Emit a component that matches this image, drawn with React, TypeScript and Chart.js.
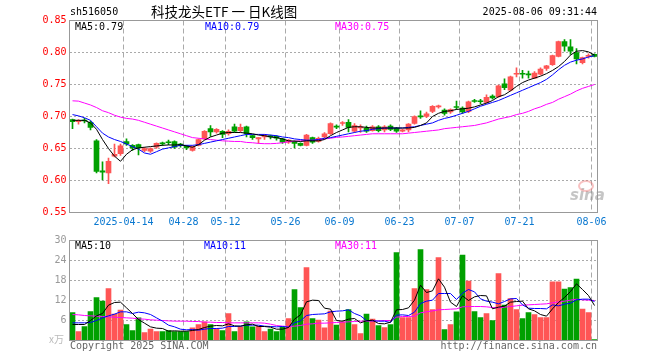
import React, { useEffect, useRef } from 'react';
import { Chart, registerables } from 'chart.js';
Chart.register(...registerables);

// ---------- DATA ----------
const dates = [
  '03-31', '04-01', '04-02', '04-03', '04-07', '04-08', '04-09', '04-10', '04-11',
  '04-14', '04-15', '04-16', '04-17', '04-18', '04-21', '04-22', '04-23', '04-24', '04-25',
  '04-28', '04-29', '04-30', '05-06', '05-07', '05-08', '05-09',
  '05-12', '05-13', '05-14', '05-15', '05-16', '05-19', '05-20', '05-21', '05-22', '05-23',
  '05-26', '05-27', '05-28', '05-29', '05-30', '06-03', '06-04', '06-05', '06-06',
  '06-09', '06-10', '06-11', '06-12', '06-13', '06-16', '06-17', '06-18', '06-19', '06-20',
  '06-23', '06-24', '06-25', '06-26', '06-27', '06-30', '07-01', '07-02', '07-03', '07-04',
  '07-07', '07-08', '07-09', '07-10', '07-11', '07-14', '07-15', '07-16', '07-17', '07-18',
  '07-21', '07-22', '07-23', '07-24', '07-25', '07-28', '07-29', '07-30', '07-31', '08-01',
  '08-04', '08-05', '08-06',
];

const opens = [
  0.695, 0.692, 0.694, 0.691, 0.662, 0.615, 0.612, 0.638, 0.642, 0.661,
  0.655, 0.656, 0.647, 0.646, 0.652, 0.659, 0.660, 0.661, 0.657, 0.654,
  0.647, 0.655, 0.665, 0.681, 0.676, 0.677, 0.673, 0.684, 0.678, 0.684,
  0.670, 0.665, 0.668, 0.670, 0.669, 0.665, 0.660, 0.661, 0.658, 0.655,
  0.667, 0.661, 0.668, 0.673, 0.6845, 0.689, 0.691, 0.677, 0.682, 0.682,
  0.678, 0.684, 0.679, 0.685, 0.682, 0.677, 0.679, 0.689, 0.7005, 0.700,
  0.708, 0.715, 0.710, 0.707, 0.715, 0.713, 0.708, 0.7245, 0.724, 0.722,
  0.732, 0.731, 0.751, 0.741, 0.766, 0.767, 0.766, 0.760, 0.766, 0.775,
  0.781, 0.794, 0.817, 0.809, 0.800, 0.784, 0.794, 0.797,
];
const highs = [
  0.696, 0.695, 0.697, 0.693, 0.664, 0.629, 0.635, 0.657, 0.657, 0.665,
  0.656, 0.657, 0.652, 0.651, 0.659, 0.660, 0.663, 0.662, 0.658, 0.655,
  0.654, 0.665, 0.678, 0.686, 0.681, 0.678, 0.679, 0.688, 0.688, 0.685,
  0.671, 0.667, 0.672, 0.671, 0.670, 0.666, 0.664, 0.662, 0.659, 0.672,
  0.668, 0.668, 0.675, 0.690, 0.687, 0.692, 0.695, 0.689, 0.687, 0.685,
  0.686, 0.686, 0.686, 0.687, 0.683, 0.680, 0.689, 0.701, 0.709, 0.707,
  0.717, 0.718, 0.712, 0.712, 0.724, 0.715, 0.724, 0.727, 0.727, 0.734,
  0.734, 0.749, 0.759, 0.763, 0.776, 0.772, 0.771, 0.770, 0.776, 0.780,
  0.796, 0.818, 0.820, 0.820, 0.806, 0.793, 0.798, 0.798,
];
const lows = [
  0.681, 0.688, 0.690, 0.679, 0.612, 0.601, 0.595, 0.637, 0.639, 0.655,
  0.647, 0.640, 0.645, 0.644, 0.650, 0.655, 0.656, 0.650, 0.652, 0.648,
  0.646, 0.654, 0.664, 0.669, 0.674, 0.667, 0.671, 0.675, 0.676, 0.668,
  0.664, 0.658, 0.664, 0.665, 0.663, 0.658, 0.658, 0.651, 0.654, 0.654,
  0.658, 0.660, 0.666, 0.672, 0.681, 0.686, 0.676, 0.675, 0.675, 0.675,
  0.677, 0.676, 0.676, 0.678, 0.675, 0.676, 0.676, 0.688, 0.697, 0.698,
  0.706, 0.713, 0.702, 0.705, 0.711, 0.705, 0.706, 0.722, 0.720, 0.721,
  0.727, 0.730, 0.742, 0.740, 0.762, 0.760, 0.760, 0.759, 0.765, 0.772,
  0.780, 0.793, 0.802, 0.797, 0.782, 0.782, 0.791, 0.793,
];
const closes = [
  0.692, 0.694, 0.693, 0.683, 0.614, 0.613, 0.630, 0.641, 0.654, 0.657,
  0.651, 0.651, 0.650, 0.650, 0.658, 0.657, 0.659, 0.652, 0.655, 0.651,
  0.653, 0.664, 0.677, 0.676, 0.680, 0.672, 0.677, 0.677, 0.683, 0.673,
  0.667, 0.667, 0.671, 0.668, 0.666, 0.660, 0.663, 0.658, 0.655, 0.671,
  0.660, 0.666, 0.673, 0.689, 0.6835, 0.690, 0.683, 0.686, 0.684, 0.677,
  0.684, 0.678, 0.684, 0.680, 0.677, 0.679, 0.688, 0.700, 0.6995, 0.704,
  0.716, 0.716, 0.705, 0.711, 0.714, 0.707, 0.723, 0.7235, 0.723, 0.730,
  0.729, 0.748, 0.745, 0.762, 0.767, 0.766, 0.765, 0.768, 0.774, 0.779,
  0.795, 0.817, 0.810, 0.802, 0.790, 0.792, 0.795, 0.794,
];

const priceMa5 = [
  0.694, 0.694, 0.694, 0.690, 0.680, 0.664, 0.650, 0.638, 0.630, 0.641,
  0.648, 0.651, 0.652, 0.653, 0.654, 0.655, 0.6555, 0.6555, 0.656, 0.654,
  0.652, 0.656, 0.663, 0.668, 0.671, 0.674, 0.675, 0.675, 0.675, 0.674,
  0.673, 0.671, 0.670, 0.668, 0.667, 0.665, 0.662, 0.6615, 0.661, 0.662,
  0.662, 0.662, 0.664, 0.670, 0.675, 0.679, 0.683, 0.684, 0.684, 0.683,
  0.682, 0.682, 0.682, 0.682, 0.682, 0.682, 0.682, 0.683, 0.686, 0.690,
  0.700, 0.705, 0.708, 0.709, 0.711, 0.712, 0.713, 0.715, 0.718, 0.721,
  0.725, 0.731, 0.734, 0.740, 0.747, 0.753, 0.757, 0.760, 0.763, 0.767,
  0.772, 0.778, 0.786, 0.796, 0.802, 0.803, 0.801, 0.796,
];
const priceMa10 = [
  0.703, 0.701, 0.698, 0.694, 0.684, 0.674, 0.668, 0.664, 0.661, 0.657,
  0.653, 0.649, 0.643, 0.641, 0.645, 0.649, 0.651, 0.653, 0.655, 0.655,
  0.655, 0.656, 0.658, 0.660, 0.662, 0.664, 0.666, 0.668, 0.670, 0.672,
  0.672, 0.672, 0.672, 0.671, 0.670, 0.668, 0.667, 0.665, 0.664, 0.663,
  0.663, 0.664, 0.666, 0.667, 0.669, 0.671, 0.673, 0.675, 0.677, 0.678,
  0.680, 0.681, 0.682, 0.682, 0.682, 0.682, 0.683, 0.684, 0.686, 0.688,
  0.690, 0.694, 0.697, 0.699, 0.702, 0.705, 0.708, 0.712, 0.716, 0.719,
  0.722, 0.725, 0.729, 0.733, 0.737, 0.741, 0.745, 0.749, 0.753, 0.758,
  0.765, 0.773, 0.780, 0.785, 0.788, 0.790, 0.793, 0.795,
];
const priceMa30 = [
  0.7245, 0.724, 0.721, 0.718, 0.714, 0.709, 0.706, 0.702, 0.699, 0.697,
  0.696, 0.694, 0.691, 0.688, 0.685, 0.682, 0.679, 0.676, 0.673, 0.670,
  0.667, 0.666, 0.665, 0.664, 0.663, 0.662, 0.6615, 0.661, 0.661, 0.6595,
  0.659, 0.658, 0.6575, 0.6575, 0.658, 0.659, 0.6605, 0.6615, 0.662, 0.6625,
  0.663, 0.664, 0.665, 0.666, 0.6675, 0.668, 0.669, 0.670, 0.671, 0.672,
  0.673, 0.673, 0.673, 0.673, 0.673, 0.673, 0.674, 0.675, 0.676, 0.677,
  0.678, 0.679, 0.681, 0.682, 0.683, 0.684, 0.685, 0.686, 0.688, 0.690,
  0.693, 0.696, 0.698, 0.700, 0.703, 0.705, 0.708, 0.712, 0.715, 0.719,
  0.722, 0.727, 0.731, 0.735, 0.740, 0.744, 0.747, 0.750,
];

// volume in 万 (x10,000)
const volumes = [
  8.4, 2.7, 4.2, 8.7, 12.9, 11.8, 15.6, 7.9, 9.1, 4.8,
  3.0, 6.8, 2.4, 3.4, 2.7, 2.7, 3.0, 2.7, 2.7, 2.7,
  3.8, 4.8, 5.6, 4.8, 3.6, 3.0, 8.1, 2.7, 4.1, 5.6,
  4.1, 4.3, 2.7, 3.4, 2.7, 4.1, 6.6, 15.3, 9.9, 21.9,
  6.6, 6.1, 3.8, 8.8, 4.6, 5.6, 9.3, 4.8, 2.1, 7.9,
  6.4, 4.5, 3.9, 4.8, 26.4, 6.9, 6.9, 15.6, 27.3, 15.3,
  9.3, 24.9, 3.3, 4.8, 8.6, 25.6, 17.8, 8.7, 6.9, 8.1,
  6.0, 20.1, 10.6, 12.6, 9.3, 6.6, 8.4, 7.8, 6.9, 6.9,
  17.6, 17.6, 15.4, 15.9, 18.4, 9.4, 8.4, 0.3,
];
const volMa5 = [
  4.8, 4.8, 4.8, 6.0, 7.4, 8.1, 10.6, 11.4, 11.5, 9.8,
  8.1, 6.3, 5.2, 4.1, 3.7, 3.6, 2.8, 2.9, 2.8, 2.8,
  3.0, 3.3, 3.9, 4.3, 4.5, 4.4, 5.0, 4.4, 4.3, 4.7,
  4.9, 4.2, 4.2, 4.0, 3.4, 3.4, 3.9, 6.4, 7.7, 11.6,
  12.1, 12.0, 9.7, 9.4, 6.0, 5.8, 6.4, 6.6, 5.3, 5.9,
  6.1, 5.1, 5.0, 5.5, 9.2, 9.3, 9.8, 12.1, 16.6, 14.4,
  14.9, 18.5, 16.0, 11.5, 10.2, 13.4, 12.0, 13.1, 13.5, 13.4,
  9.5, 10.0, 10.3, 11.5, 11.7, 11.8, 9.5, 8.9, 7.8, 7.3,
  9.5, 11.4, 12.9, 14.7, 17.0, 15.3, 13.5, 10.5,
];
const volMa10 = [
  5.3, 5.3, 5.3, 5.4, 6.0, 6.8, 7.4, 7.9, 8.6, 8.6,
  8.1, 8.5, 8.3, 7.8, 6.8, 5.8, 4.6, 4.1, 3.4, 3.2,
  3.3, 3.1, 3.4, 3.6, 3.6, 3.7, 4.2, 4.2, 4.3, 4.6,
  4.6, 4.6, 4.3, 4.2, 4.1, 4.2, 4.0, 5.3, 5.9, 7.5,
  7.8, 7.9, 8.0, 8.6, 8.8, 8.9, 9.2, 8.1, 7.4, 6.0,
  5.9, 5.8, 5.8, 5.4, 7.6, 7.7, 7.5, 8.5, 11.1, 11.8,
  12.1, 14.1, 14.1, 14.1, 12.3, 14.2, 15.3, 14.6, 12.5, 11.8,
  11.5, 11.0, 11.7, 12.5, 12.6, 10.7, 9.7, 9.6, 9.6, 9.5,
  10.7, 10.4, 10.9, 11.2, 12.2, 12.4, 12.4, 11.7,
];
const volMa30 = [
  7.8, 7.7, 7.5, 7.4, 7.3, 7.2, 7.1, 7.0, 6.9, 6.8,
  6.7, 6.5, 6.4, 6.2, 6.1, 6.0, 5.9, 5.8, 5.8, 5.8,
  5.7, 5.7, 5.5, 5.5, 5.4, 5.4, 5.3, 5.3, 5.3, 5.3,
  5.3, 5.3, 5.2, 4.9, 4.5, 4.3, 4.2, 4.3, 4.5, 4.9,
  5.0, 5.2, 5.2, 5.3, 5.4, 5.5, 5.6, 5.7, 5.8, 5.8,
  5.9, 5.9, 6.0, 6.0, 7.0, 7.2, 7.2, 7.3, 8.3, 8.6,
  8.9, 9.2, 9.3, 9.4, 9.5, 10.1, 10.2, 10.2, 10.2, 10.1,
  9.9, 9.8, 10.0, 10.2, 10.4, 10.6, 10.7, 10.8, 10.9, 11.0,
  11.3, 11.6, 11.8, 12.1, 12.4, 12.2, 12.1, 12.0,
];

const tickDates = ['04-14', '04-28', '05-12', '05-26', '06-09', '06-23', '07-07', '07-21', '08-06'];
const tickTexts = ['2025-04-14', '04-28', '05-12', '05-26', '06-09', '06-23', '07-07', '07-21', '08-06'];

const priceMin = 0.55;
const priceMax = 0.85;
const priceStep = 0.05;
const volMax = 30;
const volStep = 6;

// ---------- STYLE ----------
const RED = '#ff5555';
const GREEN = '#00a000';
const MONO = '"DejaVu Sans Mono", monospace';
const GRID = '#aaaaaa';
const FRAME = '#999999';

const framePlugin = {
  id: 'frame',
  afterDraw(chart: any) {
    const { ctx, chartArea } = chart;
    const { left, top, right, bottom } = chartArea;
    ctx.save();
    ctx.strokeStyle = FRAME;
    ctx.lineWidth = 1;
    ctx.strokeRect(left, top, right - left, bottom - top);
    ctx.restore();
  },
};

const isTickIdx = (i: number) => i >= 0 && i < dates.length && tickDates.includes(dates[i]);

function xScale(showLabels: boolean) {
  return {
    offset: true,
    grid: {
      offset: true,
      drawTicks: false,
      color: (c: any) => (isTickIdx(c.index) ? GRID : 'rgba(0,0,0,0)'),
      lineWidth: 1,
    },
    border: { display: false, dash: [5, 3] },
    ticks: {
      display: showLabels,
      autoSkip: false,
      maxRotation: 0,
      minRotation: 0,
      padding: 4,
      labelOffset: -3,
      color: '#0a78d0',
      font: { family: MONO, size: 10 },
      callback: (_v: any, i: number) => {
        const k = tickDates.indexOf(dates[i]);
        return k >= 0 ? tickTexts[k] : '';
      },
    },
    afterFit: (s: any) => {
      s.height = showLabels ? 17.5 : 0;
    },
  };
}

export default function App() {
  const priceRef = useRef<HTMLCanvasElement>(null);
  const volRef = useRef<HTMLCanvasElement>(null);

  useEffect(() => {
    document.body.style.margin = '0';
    const up = closes.map((c, i) => c >= opens[i]);
    const colors = up.map((u) => (u ? RED : GREEN));

    const lineDs = (data: number[], color: string) => ({
      type: 'line' as const,
      data,
      borderColor: color,
      borderWidth: 1,
      pointRadius: 0,
      tension: 0,
      fill: false,
      order: 0,
    });

    const price = new Chart(priceRef.current!, {
      type: 'bar',
      data: {
        labels: dates,
        datasets: [
          lineDs(priceMa5, '#000000'),
          lineDs(priceMa10, '#0000ff'),
          lineDs(priceMa30, '#ff00ff'),
          {
            type: 'bar',
            data: lows.map((l, i) => [l, highs[i]]),
            backgroundColor: colors,
            barThickness: 1,
            grouped: false,
            order: 2,
          } as any,
          {
            type: 'bar',
            data: opens.map((o, i) => [o, closes[i]]),
            backgroundColor: colors,
            barThickness: 5,
            minBarLength: 1,
            grouped: false,
            order: 1,
          } as any,
        ],
      },
      options: {
        responsive: false,
        animation: false,
        events: [],
        layout: { padding: { top: 20.5, right: 62.5, left: 0, bottom: 0 } },
        plugins: { legend: { display: false }, tooltip: { enabled: false } },
        scales: {
          x: xScale(true) as any,
          y: {
            min: priceMin,
            max: priceMax,
            grid: {
              drawTicks: false,
              color: (c: any) => {
                const v = c.tick ? c.tick.value : 0;
                return Math.abs(v - priceMin) < 1e-6 || Math.abs(v - priceMax) < 1e-6 ? 'rgba(0,0,0,0)' : GRID;
              },
            },
            border: { display: false, dash: [2, 2] },
            ticks: {
              stepSize: priceStep,
              padding: 3,
              color: '#ff0000',
              font: { family: MONO, size: 10 },
              callback: (v: any) => Number(v).toFixed(2),
            },
            afterFit: (s: any) => {
              s.width = 69.5;
            },
          } as any,
        },
      },
      plugins: [framePlugin],
    });

    const vol = new Chart(volRef.current!, {
      type: 'bar',
      data: {
        labels: dates,
        datasets: [
          lineDs(volMa5, '#000000'),
          lineDs(volMa10, '#0000ff'),
          lineDs(volMa30, '#ff00ff'),
          {
            type: 'bar',
            data: volumes,
            backgroundColor: colors,
            barThickness: 5,
            grouped: false,
            order: 1,
          } as any,
        ],
      },
      options: {
        responsive: false,
        animation: false,
        events: [],
        layout: { padding: { top: 10.5, right: 62.5, left: 0, bottom: 19.5 } },
        plugins: { legend: { display: false }, tooltip: { enabled: false } },
        scales: {
          x: xScale(false) as any,
          y: {
            min: 0,
            max: volMax,
            grid: {
              drawTicks: false,
              color: (c: any) => {
                const v = c.tick ? c.tick.value : 0;
                return v === 0 || v === volMax ? 'rgba(0,0,0,0)' : GRID;
              },
            },
            border: { display: false, dash: [2, 2] },
            ticks: {
              stepSize: volStep,
              padding: 3,
              color: '#999999',
              font: { family: MONO, size: 10 },
              callback: (v: any) => (Number(v) === 0 ? '' : String(v)),
            },
            afterFit: (s: any) => {
              s.width = 69.5;
            },
          } as any,
        },
      },
      plugins: [framePlugin],
    });

    return () => {
      price.destroy();
      vol.destroy();
    };
  }, []);

  const txt = (
    text: string,
    left: number | undefined,
    top: number,
    color: string,
    extra: React.CSSProperties = {}
  ) => (
    <div
      style={{
        position: 'absolute',
        left,
        top,
        color,
        fontFamily: MONO,
        fontSize: 10,
        lineHeight: '12px',
        whiteSpace: 'pre',
        ...extra,
      }}
    >
      {text}
    </div>
  );

  return (
    <div style={{ position: 'absolute', left: 0, top: 0, width: 660, height: 360, background: '#ffffff', overflow: 'hidden' }}>
      <canvas ref={priceRef} width={660} height={230} style={{ position: 'absolute', left: 0, top: 0 }} />
      <canvas ref={volRef} width={660} height={130} style={{ position: 'absolute', left: 0, top: 230 }} />

      {txt('sh516050', 70, 6, '#000000')}
      <div
        style={{
          position: 'absolute',
          left: 151,
          top: 3,
          fontFamily: '"Noto Sans CJK SC", sans-serif',
          fontSize: 13.5,
          lineHeight: '17px',
          color: '#000000',
          whiteSpace: 'pre',
        }}
      >
        科技龙头ETF 一 日K线图
      </div>
      {txt('2025-08-06 09:31:44', undefined, 6, '#000000', { right: 63 })}

      {txt('MA5:0.79', 75, 21, '#000000')}
      {txt('MA10:0.79', 205, 21, '#0000ff')}
      {txt('MA30:0.75', 335, 21, '#ff00ff')}

      {txt('MA5:10', 75, 240, '#000000')}
      {txt('MA10:11', 204, 240, '#0000ff')}
      {txt('MA30:11', 335, 240, '#ff00ff')}

      <div
        style={{
          position: 'absolute',
          left: 49,
          top: 333,
          fontFamily: '"Noto Sans CJK SC", sans-serif',
          fontSize: 10,
          lineHeight: '12px',
          color: '#bbbbbb',
        }}
      >
        x万
      </div>
      {txt('Copyright 2025 SINA.COM', 70, 340, '#666666')}
      {txt('http://finance.sina.com.cn', undefined, 340, '#666666', { right: 63 })}

      <div
        style={{
          position: 'absolute',
          left: 570,
          top: 186,
          fontFamily: '"DejaVu Sans", sans-serif',
          fontSize: 15,
          fontWeight: 'bold',
          fontStyle: 'italic',
          lineHeight: '18px',
          color: 'rgba(150,150,150,0.55)',
        }}
      >
        sina
      </div>
      <div
        style={{
          position: 'absolute',
          left: 578,
          top: 180,
          width: 12,
          height: 8,
          borderRadius: '50%',
          border: '2px solid rgba(240,120,120,0.45)',
        }}
      />
    </div>
  );
}
